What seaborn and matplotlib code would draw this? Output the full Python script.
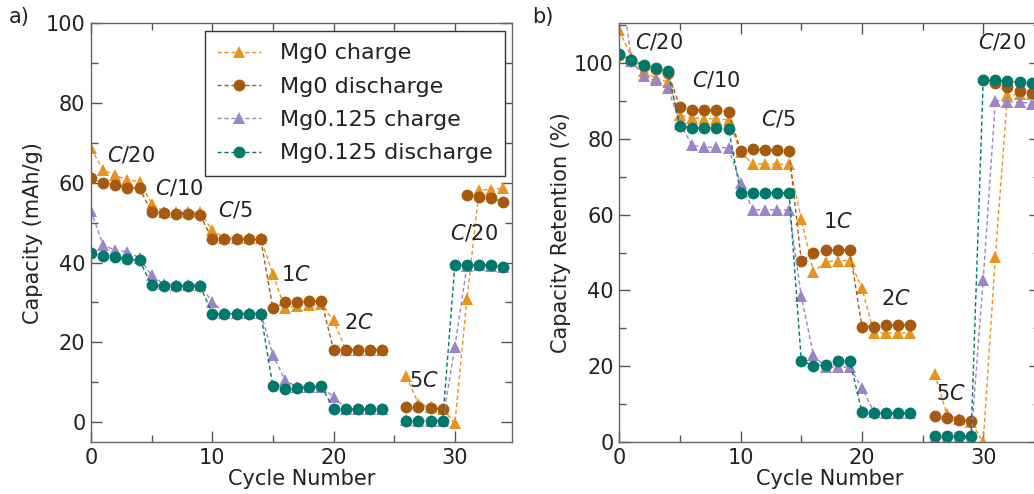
import numpy as np
import pandas as pd
import matplotlib
matplotlib.use("Agg")
import matplotlib.pyplot as plt
from matplotlib.lines import Line2D
from matplotlib.ticker import MultipleLocator
import seaborn as sns

nan = np.nan
cycles = list(range(35))
series_names = ["Mg0 charge", "Mg0 discharge", "Mg0.125 charge", "Mg0.125 discharge"]

# Panel a: capacity (mAh/g)
mg0_charge_a = [68.6, 63.2, 61.9, 60.7, 60.3, 54.8, 52.8, 52.7, 52.6, 52.6,
                48.1, 46.2, 46.2, 46.1, 46.1, 37.1, 28.5, 29.2, 29.4, 29.5,
                25.5, 18.2, 18.2, 18.1, 18.1, nan, 11.5, 4.6, 3.7, 3.3,
                -0.3, 30.8, 58.2, 58.3, 58.7]
mg0_discharge_a = [61.1, 60.0, 59.4, 58.8, 58.6, 52.7, 52.5, 52.3, 52.3, 52.0,
                   45.8, 45.8, 45.8, 45.8, 45.8, 28.5, 30.0, 30.1, 30.3, 30.3,
                   18.2, 18.1, 18.1, 18.1, 18.1, nan, 3.9, 3.8, 3.6, 3.3,
                   nan, 56.9, 56.5, 56.3, 55.1]
mg0125_charge_a = [53.0, 44.4, 43.1, 42.7, 41.2, 36.8, 34.6, 34.5, 34.5, 34.4,
                   30.1, 27.4, 27.3, 27.3, 27.3, 16.9, 10.5, 8.8, 8.8, 8.9,
                   6.3, 3.4, 3.3, 3.3, 3.3, nan, 0.5, 0.4, 0.4, 0.4,
                   18.8, 39.2, 39.3, 39.2, 39.0]
mg0125_discharge_a = [42.3, 41.7, 41.3, 40.8, 40.6, 34.3, 34.2, 34.2, 34.2, 34.1,
                      27.2, 27.2, 27.2, 27.2, 27.2, 9.0, 8.4, 8.6, 8.8, 9.0,
                      3.3, 3.2, 3.2, 3.2, 3.2, nan, 0.4, 0.4, 0.4, 0.4,
                      39.3, 39.4, 39.4, 39.4, 39.0]

# Panel b: capacity retention (%)
mg0_charge_b = [108.6, 101.5, 98.0, 96.0, 95.0, 86.3, 85.5, 85.3, 85.3, 85.0,
                76.5, 73.4, 73.4, 73.3, 73.3, 58.9, 45.0, 47.5, 47.9, 47.9,
                40.6, 28.8, 28.8, 28.8, 28.8, nan, 18.0, 7.5, 6.0, 5.3,
                0.0, 48.8, 91.5, 91.7, 91.9]
mg0_discharge_b = [102.2, 100.6, 99.3, 98.4, 97.5, 88.4, 87.7, 87.5, 87.5, 87.1,
                   76.8, 77.2, 77.1, 77.0, 76.7, 47.7, 49.9, 50.6, 50.7, 50.7,
                   30.5, 30.5, 30.8, 31.0, 31.0, nan, 6.8, 6.3, 5.9, 5.5,
                   nan, 94.8, 93.8, 92.6, 92.2]
mg0125_charge_b = [125.0, 100.5, 96.7, 95.4, 93.5, 84.0, 78.3, 77.8, 77.8, 77.6,
                   68.3, 61.3, 61.3, 61.3, 61.2, 38.5, 22.9, 19.8, 19.8, 19.8,
                   14.3, 7.9, 7.6, 7.6, 7.6, nan, 1.0, 1.0, 1.0, 1.0,
                   42.8, 90.1, 89.7, 89.7, 89.3]
mg0125_discharge_b = [102.5, 100.9, 99.6, 98.7, 97.8, 83.3, 82.9, 82.8, 82.8, 82.7,
                      65.7, 65.7, 65.7, 65.7, 65.7, 21.5, 20.1, 20.4, 21.3, 21.5,
                      7.9, 7.7, 7.7, 7.7, 7.7, nan, 1.5, 1.5, 1.5, 1.5,
                      95.4, 95.4, 95.2, 95.0, 94.7]

rate_labels = ["$C$/20", "$C$/10", "$C$/5", "1$C$", "2$C$", "5$C$", "$C$/20"]
label_pos_a = [(1.3, 67), (5.3, 58.6), (10.5, 53.1), (15.7, 36.8), (20.9, 24.9), (26.2, 10.2), (29.6, 47.5)]
label_pos_b = [(1.25, 105.5), (6.0, 95.4), (11.7, 85.3), (16.8, 58.0), (21.6, 37.8), (26.1, 12.8), (29.6, 105.5)]

colors = {"Mg0 charge": "#E8931E", "Mg0 discharge": "#A65A10",
          "Mg0.125 charge": "#9A85C8", "Mg0.125 discharge": "#00786A"}
markers = {"Mg0 charge": "^", "Mg0 discharge": "o",
           "Mg0.125 charge": "^", "Mg0.125 discharge": "o"}


def long_frame(arrays):
    rows = []
    for name, vals in zip(series_names, arrays):
        seg = 0
        for c, v in zip(cycles, vals):
            if np.isnan(v):
                seg += 1
                continue
            rows.append({"cycle": c, "value": v, "series": name, "seg": seg})
    return pd.DataFrame(rows)


df_a = long_frame([mg0_charge_a, mg0_discharge_a, mg0125_charge_a, mg0125_discharge_a])
df_b = long_frame([mg0_charge_b, mg0_discharge_b, mg0125_charge_b, mg0125_discharge_b])

sns.set_theme(style="white")
plt.rcParams["font.family"] = ["DejaVu Sans"]
plt.rcParams["mathtext.fontset"] = "dejavusans"

FS = 15
fig = plt.figure(figsize=(10.34, 4.94), dpi=100)
ax1 = fig.add_axes([0.088, 0.105, 0.407, 0.848])
ax2 = fig.add_axes([0.599, 0.105, 0.407, 0.848])


def draw(ax, df):
    sns.lineplot(data=df, x="cycle", y="value", hue="series", style="series",
                 units="seg", estimator=None, sort=False,
                 hue_order=series_names, style_order=series_names,
                 palette=colors, markers=markers,
                 dashes={s: (3, 2) for s in series_names},
                 markersize=8.5, markeredgewidth=0, linewidth=1.0,
                 legend=False, ax=ax)


def style_axes(ax, ylabel, yminor):
    ax.set_xlabel("Cycle Number", fontsize=FS, color="#222222", labelpad=1)
    ax.set_ylabel(ylabel, fontsize=FS, color="#222222", labelpad=2)
    ax.xaxis.set_major_locator(MultipleLocator(10))
    ax.xaxis.set_minor_locator(MultipleLocator(5))
    ax.yaxis.set_major_locator(MultipleLocator(20))
    ax.yaxis.set_minor_locator(MultipleLocator(yminor))
    ax.tick_params(which="both", direction="in", top=True, right=True,
                   bottom=True, left=True,
                   color="#555555", labelsize=FS, labelcolor="#222222", width=1)
    ax.tick_params(which="major", length=8, pad=4)
    ax.tick_params(which="minor", length=5)
    for sp in ax.spines.values():
        sp.set_color("#666666")
        sp.set_linewidth(1)


draw(ax1, df_a)
draw(ax2, df_b)
ax1.set_xlim(0, 34.7)
ax1.set_ylim(-5, 100)
ax2.set_xlim(0, 34.7)
ax2.set_ylim(0, 110.5)
style_axes(ax1, "Capacity (mAh/g)", 10)
style_axes(ax2, "Capacity Retention (%)", 10)

for txt, (x, y) in zip(rate_labels, label_pos_a):
    ax1.text(x, y, txt, fontsize=FS, ha="left", va="center", color="#222222")
for txt, (x, y) in zip(rate_labels, label_pos_b):
    ax2.text(x, y, txt, fontsize=FS, ha="left", va="center", color="#222222")

handles = [Line2D([], [], color=colors[s], marker=markers[s], linestyle="--",
                  dashes=(3, 2), markersize=8.5, markeredgewidth=0, linewidth=1.0)
           for s in series_names]
leg = ax1.legend(handles, series_names, loc="upper right",
                 bbox_to_anchor=(0.984, 0.981), fontsize=16, frameon=True,
                 fancybox=False, framealpha=1, edgecolor="#333333",
                 handlelength=2.0, handletextpad=0.85, labelspacing=0.6,
                 borderpad=0.55, borderaxespad=0)
leg.get_frame().set_linewidth(1)
for t in leg.get_texts():
    t.set_color("#222222")

fig.text(0.008, 0.965, "a)", fontsize=FS, ha="left", va="center", color="#222222")
fig.text(0.515, 0.965, "b)", fontsize=FS, ha="left", va="center", color="#222222")

fig.savefig("out.png", dpi=100)
